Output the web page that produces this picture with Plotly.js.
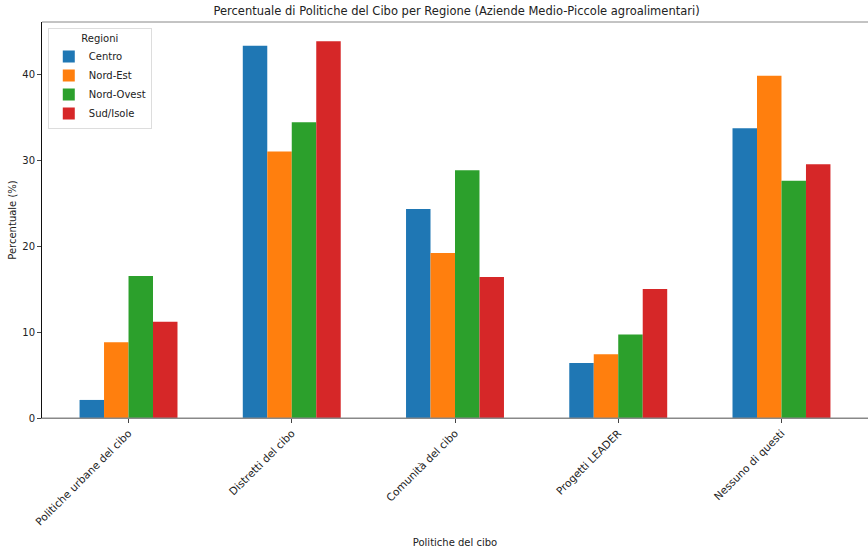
<!DOCTYPE html>
<html>
<head>
<meta charset="utf-8">
<script src="https://cdn.plot.ly/plotly-3.0.1.min.js"></script>
<style>html,body{margin:0;padding:0;background:#fff;}#chart{width:868px;height:550px;}</style>
</head>
<body>
<div id="chart"></div>
<script>
const categories = ["Politiche urbane del cibo", "Distretti del cibo", "Comunità del cibo", "Progetti LEADER", "Nessuno di questi"];
const regions = ["Centro", "Nord-Est", "Nord-Ovest", "Sud/Isole"];
const centro = [2.1, 43.3, 24.3, 6.4, 33.7];
const nordEst = [8.8, 31.0, 19.2, 7.4, 39.8];
const nordOvest = [16.5, 34.4, 28.8, 9.7, 27.6];
const sudIsole = [11.2, 43.8, 16.4, 15.0, 29.5];
const yTicks = [0, 10, 20, 30, 40];

const colors = ["#1f77b4", "#ff7f0e", "#2ca02c", "#d62728"];
const series = [centro, nordEst, nordOvest, sudIsole];
const font = "DejaVu Sans, sans-serif";

const traces = series.map((vals, i) => ({
  type: "bar",
  name: regions[i],
  x: categories,
  y: vals,
  marker: {color: colors[i], line: {width: 0}},
  hoverinfo: "x+y+name"
}));

const layout = {
  width: 868, height: 550,
  margin: {l: 42, r: 0, t: 22, b: 132},
  paper_bgcolor: "#fff", plot_bgcolor: "#fff",
  font: {family: font, size: 10, color: "#222"},
  title: {text: "Percentuale di Politiche del Cibo per Regione (Aziende Medio-Piccole agroalimentari)",
          font: {family: font, size: 11.5, color: "#222"}, x: 0.526, xanchor: "center",
          y: 0.980, yanchor: "middle", yref: "container", xref: "container"},
  barmode: "group", bargap: 0.4, bargroupgap: 0,
  xaxis: {
    type: "category", range: [-0.53, 4.53],
    tickangle: -45, ticks: "outside", ticklen: 4, tickcolor: "#444",
    tickfont: {family: font, size: 10.6, color: "#222"},
    showline: true, linecolor: "#888", linewidth: 1, mirror: false,
    showgrid: false, zeroline: false,
    title: {text: "Politiche del cibo", font: {family: font, size: 10, color: "#222"}, standoff: 12}
  },
  yaxis: {
    range: [0, 46.05], tickvals: yTicks, ticks: "outside", ticklen: 4, tickcolor: "#444",
    tickfont: {family: font, size: 10, color: "#222"},
    showline: true, linecolor: "#111", linewidth: 1, mirror: false,
    showgrid: false, zeroline: false,
    title: {text: "Percentuale (%)", font: {family: font, size: 10, color: "#222"}, standoff: 3}
  },
  shapes: [
    {type: "line", xref: "paper", yref: "paper", x0: 0, x1: 1, y0: 1, y1: 1, line: {color: "#888", width: 1}},
    {type: "line", xref: "paper", yref: "y", x0: 0, x1: 1, y0: 0, y1: 0, line: {color: "#888", width: 1}}
  ],
  legend: {
    x: 0.007, y: 0.985, xanchor: "left", yanchor: "top",
    bgcolor: "rgba(255,255,255,0.9)", bordercolor: "#ddd", borderwidth: 1,
    font: {family: font, size: 10, color: "#222"},
    title: {text: "Regioni", side: "top center", font: {family: font, size: 10, color: "#222"}},
    itemwidth: 30, tracegroupgap: 0
  },
  showlegend: true
};

Plotly.newPlot("chart", traces, layout, {displayModeBar: false, staticPlot: true});
</script>
</body>
</html>
